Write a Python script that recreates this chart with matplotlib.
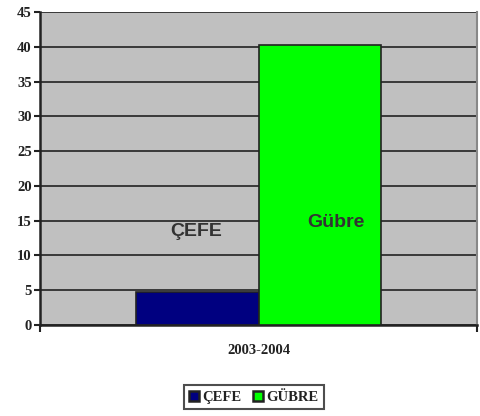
import matplotlib
matplotlib.use("Agg")
import matplotlib.pyplot as plt
from matplotlib.lines import Line2D

period = "2003-2004"
series = ["ÇEFE", "GÜBRE"]
bar_labels = ["ÇEFE", "Gübre"]
values = [4.7, 40.3]
colors = ["#000080", "#00FF00"]

fig = plt.figure(figsize=(4.81, 4.16), dpi=100)
ax = fig.add_axes([40 / 481, 1 - 325 / 416, 437 / 481, 313 / 416])
ax.set_facecolor("#C0C0C0")

w = 0.28
offsets = [-w / 2, w / 2]
for off, v, c in zip(offsets, values, colors):
    ax.bar(off, v, width=w, color=c, edgecolor="#222222", linewidth=1.2, zorder=3)

# labels written inside the plot
ax.text(-0.143, 13.5, bar_labels[0], ha="center", va="center",
        fontsize=14, fontweight="bold", color="#333333", family="Liberation Sans", zorder=4)
ax.text(0.177, 14.8, bar_labels[1], ha="center", va="center",
        fontsize=14, fontweight="bold", color="#333333", family="Liberation Sans", zorder=4)

ax.set_xlim(-0.5, 0.5)
ax.set_ylim(0, 45)
ax.set_yticks(range(0, 46, 5))
ax.yaxis.grid(True, color="#222222", linewidth=1.2, zorder=1)
ax.set_axisbelow(True)

ax.set_xticks([0])
ax.set_xticklabels([period])
ax.set_xticks([-0.5, 0.5], minor=True)
ax.tick_params(axis="x", which="major", length=0, pad=14)
ax.tick_params(axis="x", which="minor", length=5, width=1.5, color="#222222")
ax.tick_params(axis="y", length=4, width=1.5, color="#222222", pad=2)

for lab in ax.get_xticklabels() + ax.get_yticklabels():
    lab.set_family("Liberation Serif")
    lab.set_fontweight("bold")
    lab.set_fontsize(10.5)
    lab.set_color("#222222")

ax.spines["top"].set_visible(False)
ax.spines["right"].set_color("#888888")
ax.spines["right"].set_linewidth(1.5)
ax.spines["left"].set_color("#222222")
ax.spines["left"].set_linewidth(1.8)
ax.spines["bottom"].set_color("#222222")
ax.spines["bottom"].set_linewidth(1.8)

handles = [Line2D([], [], marker="s", linestyle="", markersize=7,
                  markerfacecolor=c, markeredgecolor="#222222", markeredgewidth=1.8)
           for c in colors]
leg = fig.legend(handles, series, loc="center", bbox_to_anchor=(254 / 481, 1 - 397 / 416),
                 ncol=2, frameon=True, fancybox=False, handlelength=0.6, handletextpad=0.3,
                 columnspacing=0.8, borderpad=0.4,
                 prop={"family": "Liberation Serif", "weight": "bold", "size": 10.5})
leg.get_frame().set_edgecolor("#222222")
leg.get_frame().set_linewidth(1.5)
for t in leg.get_texts():
    t.set_color("#222222")

fig.savefig("out.png", dpi=100)
